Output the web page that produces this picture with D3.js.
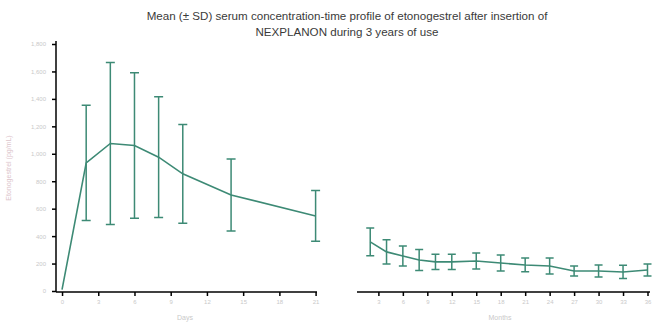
<!DOCTYPE html>
<meta charset="utf-8">
<style>
  body { margin: 0; background: #fff; }
  svg { display: block; font-family: "Liberation Sans", Arial, sans-serif; }
</style>
<svg width="652" height="326"></svg>
<script src="https://d3js.org/d3.v7.min.js"></script>
<script>

// days panel
var days = [0, 2, 4, 6, 8, 10, 14, 21];
var dayMean = [10, 934, 1075, 1060, 975, 854, 700, 547];
var daySD = [0, 420, 590, 530, 440, 360, 262, 185];

// months panel
var months = [2, 4, 6, 8, 10, 12, 15, 18, 21, 24, 27, 30, 33, 36];
var monthMean = [358, 285, 255, 226, 212, 212, 219, 204, 190, 182, 146, 146, 139, 153];
var monthSD = [102, 88, 73, 77, 55, 55, 58, 58, 50, 58, 36, 44, 48, 44];

var yTicks = [0, 200, 400, 600, 800, 1000, 1200, 1400, 1600, 1800];
var dayTicks = [0, 3, 6, 9, 12, 15, 18, 21];
var monthTicks = [3, 6, 9, 12, 15, 18, 21, 24, 27, 30, 33, 36];

var svg = d3.select("svg"),
    lineColor = "#3d8a75",
    faint = "#c9c9c9";

var y = d3.scaleLinear().domain([0, 1800]).range([291, 44]);
var xDay = d3.scaleLinear().domain([-0.5, 21]).range([56, 315.6]);
var xMonth = d3.scaleLinear().domain([0.5, 36]).range([358, 647.5]);

// title
svg.append("text")
    .attr("x", 347).attr("y", 20)
    .attr("text-anchor", "middle")
    .attr("font-size", 11.6).attr("fill", "#3a3a3a")
    .text("Mean (\u00b1 SD) serum concentration-time profile of etonogestrel after insertion of");
svg.append("text")
    .attr("x", 347).attr("y", 36)
    .attr("text-anchor", "middle")
    .attr("font-size", 11.6).attr("fill", "#3a3a3a")
    .text("NEXPLANON during 3 years of use");

// y axis
var yAxis = svg.append("g")
    .attr("transform", "translate(56,0)")
    .call(d3.axisLeft(y).tickValues(yTicks).tickSize(4).tickSizeOuter(0)
      .tickFormat(d3.format(",")));
yAxis.select(".domain").attr("stroke", "#000").attr("stroke-width", 1.5)
    .attr("d", "M0,292V41");
yAxis.selectAll(".tick line").attr("stroke", "#000").attr("stroke-width", 1.5);
yAxis.selectAll(".tick text").attr("fill", faint).attr("font-size", 6).attr("x", -10);

svg.append("text")
    .attr("transform", "translate(11,168) rotate(-90)")
    .attr("text-anchor", "middle")
    .attr("font-size", 7).attr("fill", "#dcc4cb")
    .text("Etonogestrel (pg/mL)");

// x axes
function xAxis(scale, ticks, x0, x1, label, lx) {
  var g = svg.append("g")
      .attr("transform", "translate(0,292)")
      .call(d3.axisBottom(scale).tickValues(ticks).tickSize(4).tickSizeOuter(0));
  g.select(".domain").attr("stroke", "#000").attr("stroke-width", 1.5)
      .attr("d", "M" + x0 + ",0H" + x1);
  g.selectAll(".tick line").attr("stroke", "#000").attr("stroke-width", 1.5);
  g.selectAll(".tick text").attr("fill", faint).attr("font-size", 6).attr("y", 8);
  svg.append("text")
      .attr("x", lx).attr("y", 320)
      .attr("text-anchor", "middle")
      .attr("font-size", 7).attr("fill", faint)
      .text(label);
}
xAxis(xDay, dayTicks, 56, 317, "Days", 185);
xAxis(xMonth, monthTicks, 357, 650, "Months", 500);

// series
function series(xs, means, sds, scale, cap) {
  var pts = xs.map(function(d, i) { return {x: d, m: means[i], s: sds[i]}; });
  var g = svg.append("g");
  pts.forEach(function(p) {
    if (!p.s) return;
    var px = scale(p.x), hi = y(p.m + p.s), lo = y(p.m - p.s);
    g.append("path")
        .attr("d", "M" + px + "," + hi + "V" + lo +
              "M" + (px - cap) + "," + hi + "H" + (px + cap) +
              "M" + (px - cap) + "," + lo + "H" + (px + cap))
        .attr("fill", "none").attr("stroke", lineColor).attr("stroke-width", 1.5);
  });
  g.append("path")
      .datum(pts)
      .attr("d", d3.line().x(function(d) { return scale(d.x); }).y(function(d) { return y(d.m); }))
      .attr("fill", "none").attr("stroke", lineColor).attr("stroke-width", 1.6);
}
series(days, dayMean, daySD, xDay, 4.5);
series(months, monthMean, monthSD, xMonth, 4);

</script>
